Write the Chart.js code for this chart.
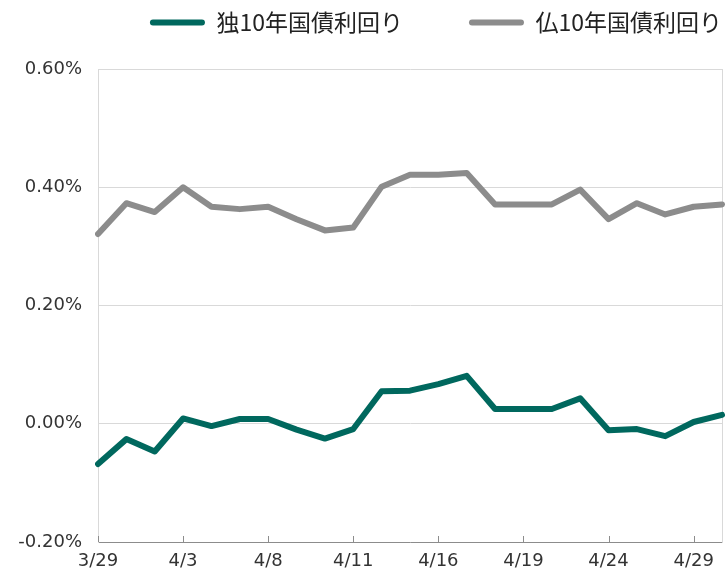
<!DOCTYPE html>
<html lang="ja">
<head>
    <meta charset="UTF-8">
    <title>独仏10年国債利回り</title>
    <style>
        body {
            margin: 0;
            background-color: #fff;
        }
        .chart-box {
            width: 725px;
            height: 571px;
        }
    </style>
    <script src="https://cdn.jsdelivr.net/npm/chart.js"></script>
</head>
<body>
<div class="chart-box"><canvas id="chart"></canvas></div>

<script>
    // 日付（2019年の営業日）
    const dates = ['3/29', '4/1', '4/2', '4/3', '4/4', '4/5', '4/8', '4/9', '4/10', '4/11', '4/12', '4/15',
        '4/16', '4/17', '4/18', '4/19', '4/22', '4/23', '4/24', '4/25', '4/26', '4/29', '4/30'];

    // 利回り（%）
    const deYield = [-0.068, -0.026, -0.047, 0.009, -0.004, 0.008, 0.008, -0.010, -0.025, -0.009, 0.055,
        0.056, 0.067, 0.081, 0.025, 0.025, 0.025, 0.043, -0.011, -0.009, -0.021, 0.003, 0.015];
    const frYield = [0.321, 0.373, 0.358, 0.400, 0.367, 0.363, 0.367, 0.346, 0.327, 0.332, 0.401,
        0.421, 0.421, 0.424, 0.371, 0.371, 0.371, 0.396, 0.346, 0.373, 0.354, 0.367, 0.371];

    const yTicks = [-0.2, 0, 0.2, 0.4, 0.6];
    const labelEvery = 3;

    const FONT_JP = "'Noto Sans CJK JP', 'Noto Sans', sans-serif";
    const FONT_NUM = "'DejaVu Sans', sans-serif";
    const GREEN = '#00685e';
    const GREY = '#8c8c8c';

    const LEGEND_PAD = 66; // 凡例項目の間隔

    // 凡例とプロットの間隔
    const legendGap = {
        id: 'legendGap',
        beforeInit(chart) {
            const fit = chart.legend.fit;
            chart.legend.fit = function () {
                fit.call(this);
                this.height += 25;
            };
        }
    };

    // x軸の内向き目盛り
    const axisTicks = {
        id: 'axisTicks',
        afterDraw(chart) {
            const ctx = chart.ctx;
            const x = chart.scales.x;
            const area = chart.chartArea;
            ctx.save();
            ctx.strokeStyle = '#8c8c8c';
            ctx.lineWidth = 1;
            ctx.beginPath();
            dates.forEach((d, i) => {
                if (i % labelEvery !== 0) return;
                const px = Math.round(x.getPixelForValue(i)) + 0.5;
                ctx.moveTo(px, area.bottom);
                ctx.lineTo(px, area.bottom - 6);
            });
            ctx.stroke();
            ctx.restore();
        }
    };

    new Chart(document.getElementById('chart'), {
        type: 'line',
        data: {
            labels: dates,
            datasets: [
                {
                    label: '独10年国債利回り',
                    data: deYield,
                    borderColor: GREEN,
                    backgroundColor: GREEN,
                    borderWidth: 6,
                    pointRadius: 0,
                    tension: 0,
                    borderJoinStyle: 'round',
                    borderCapStyle: 'round'
                },
                {
                    label: '仏10年国債利回り',
                    data: frYield,
                    borderColor: GREY,
                    backgroundColor: GREY,
                    borderWidth: 6,
                    pointRadius: 0,
                    tension: 0,
                    borderJoinStyle: 'round',
                    borderCapStyle: 'round'
                }
            ]
        },
        options: {
            responsive: true,
            maintainAspectRatio: false,
            animation: false,
            layout: {
                // 凡例の余白分を外側へ逃がす
                padding: { left: 0, right: 3 - LEGEND_PAD, top: 11 - LEGEND_PAD, bottom: 0 }
            },
            plugins: {
                legend: {
                    position: 'top',
                    align: 'end',
                    labels: {
                        color: '#222',
                        font: { family: FONT_JP, size: 23 },
                        boxWidth: 55,
                        boxHeight: 6,
                        padding: LEGEND_PAD,
                        useBorderRadius: true,
                        generateLabels(chart) {
                            const items = Chart.defaults.plugins.legend.labels.generateLabels(chart);
                            items.forEach(it => {
                                it.lineWidth = 0;
                                it.borderRadius = 3;
                            });
                            return items;
                        }
                    }
                },
                tooltip: { enabled: false }
            },
            scales: {
                x: {
                    offset: false,
                    grid: { display: false, drawTicks: false },
                    border: { color: '#8c8c8c', width: 1 },
                    afterFit: axis => {
                        axis.height = 29;
                        axis.paddingLeft = 0;
                        axis.paddingRight = 0;
                    },
                    ticks: {
                        autoSkip: false,
                        maxRotation: 0,
                        padding: 9,
                        color: '#333',
                        font: { family: FONT_NUM, size: 18 },
                        callback: (v, i) => (i % labelEvery === 0 ? dates[i] : '')
                    }
                },
                y: {
                    min: -0.2,
                    max: 0.6,
                    afterBuildTicks: axis => {
                        axis.ticks = yTicks.map(v => ({ value: v }));
                    },
                    afterFit: axis => { axis.width = 98; },
                    grid: { color: '#d9d9d9', drawTicks: false },
                    border: { color: '#d9d9d9' },
                    ticks: {
                        padding: 16,
                        color: '#333',
                        font: { family: FONT_NUM, size: 18 },
                        callback: v => v.toFixed(2) + '%'
                    }
                },
                // プロットエリア右枠（目盛りなし）
                yFrame: {
                    position: 'right',
                    min: -0.2,
                    max: 0.6,
                    afterFit: axis => { axis.width = LEGEND_PAD; },
                    grid: { display: false },
                    border: { color: '#d9d9d9' },
                    ticks: { display: false }
                }
            }
        },
        plugins: [legendGap, axisTicks]
    });
</script>
</body>
</html>
